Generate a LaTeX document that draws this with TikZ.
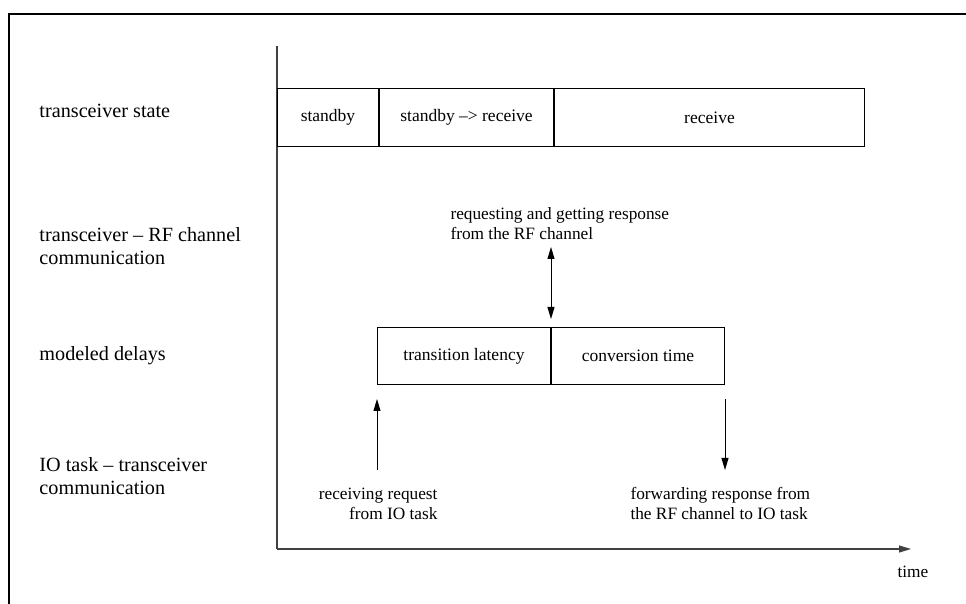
\documentclass[tikz,border=0pt]{standalone}
\usepackage{fontspec}
\setmainfont{Liberation Serif}
\usetikzlibrary{arrows.meta}
\begin{document}
\begin{tikzpicture}[x=0.5pt,y=-0.5pt,line width=0.5pt,
    >={Triangle[length=6pt,width=3.5pt]},
    rowlabel/.style={anchor=base west,inner sep=0pt,align=left,font=\fontsize{10.1}{11.8}\selectfont},
    note/.style={inner sep=0pt,font=\fontsize{8.65}{10.3}\selectfont},
    slot/.style={draw,inner sep=0pt,minimum height=29pt,font=\fontsize{8.75}{10.5}\selectfont}]

\useasboundingbox (0,0) rectangle (966,604);

\draw[line width=1.1pt] (9,604) -- (9,14) -- (966,14);

% time axis
\coordinate (origin) at (277,549);
\coordinate (ytop) at (277,46);
\coordinate (xend) at (911,549);
\draw[black!75,line width=0.6pt] (ytop) -- (origin);
\draw[black!75,line width=0.6pt,->] (origin) -- (xend);

% row labels (base = last line)
\node[rowlabel] (lstate) at (39,118) {transceiver state};
\node[rowlabel] (lrf) at (39,265) {transceiver -- RF channel\\communication};
\node[rowlabel] (ldelay) at (39,361) {modeled delays};
\node[rowlabel] (lio) at (39,495) {IO task -- transceiver\\communication};

% transceiver states
\node[slot,minimum width=50.5pt,anchor=north west] (sb) at (277,88) {standby};
\node[slot,minimum width=87pt,anchor=west] (sbrx) at (sb.east) {standby --> receive};
\node[slot,minimum width=155pt,anchor=west] (rx) at (sbrx.east) {receive};

% delays
\node[slot,minimum width=86.5pt,minimum height=28.5pt,anchor=north west] (lat) at (377,327) {transition latency};
\node[slot,minimum width=86.5pt,minimum height=28.5pt,anchor=west] (conv) at (lat.east) {conversion time};

% notes
\node[note,anchor=base west,align=left] (nreq) at (450,240) {requesting and getting response\\from the RF channel};
\node[note,anchor=base east,align=right] (nrx) at (438,520) {receiving request\\from IO task};
\node[note,anchor=base west,align=left] (nfwd) at (630,520) {forwarding response from\\the RF channel to IO task};
\node[note,anchor=base west] (ntime) at (897,578) {time};

% arrows
\coordinate (rftip) at (550,247);
\coordinate (rxfoot) at (378,470);
\coordinate (fwdtip) at (723,470);
\draw[<->,shorten >=4pt] (lat.north east |- rftip) -- (lat.north east);
\draw[->,shorten >=7pt] (lat.south west |- rxfoot) -- (lat.south west);
\draw[->,shorten <=7pt] (conv.south east) -- (conv.south east |- fwdtip);

\end{tikzpicture}
\end{document}
